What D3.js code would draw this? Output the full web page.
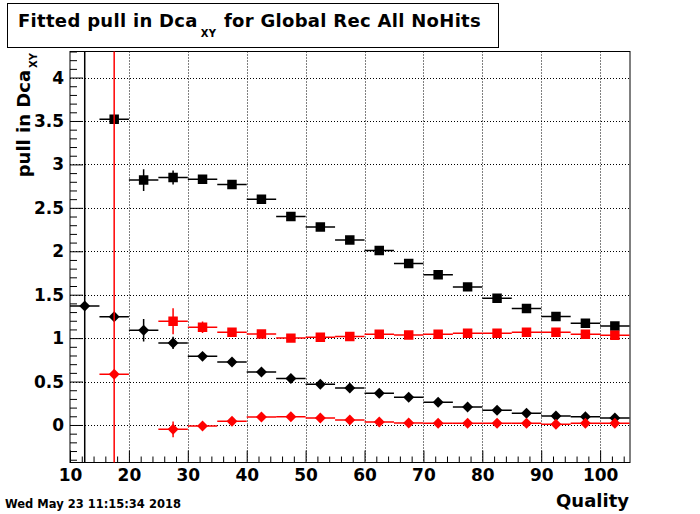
<!DOCTYPE html>
<html>
<head>
<meta charset="utf-8">
<script src="https://cdn.jsdelivr.net/npm/d3@7"></script>
<style>
  body { margin: 0; background: #fff; }
  svg { display: block; font-family: "DejaVu Sans", sans-serif; font-weight: bold; }
</style>
</head>
<body>
<svg id="chart" width="700" height="514"></svg>
<script>
// bin half width (x error of every point)
const binHalf = 2.5

const blackSquareX = [17.5, 22.5, 27.5, 32.5, 37.5, 42.5, 47.5, 52.5, 57.5, 62.5, 67.5, 72.5, 77.5, 82.5, 87.5, 92.5, 97.5, 102.5]
const blackSquareY = [3.52, 2.82, 2.85, 2.83, 2.77, 2.60, 2.40, 2.28, 2.13, 2.01, 1.86, 1.73, 1.59, 1.46, 1.34, 1.25, 1.17, 1.14]
const blackSquareErr = [0.02, 0.125, 0.08, 0.04, 0.03, 0.02, 0.02, 0.02, 0.02, 0.02, 0.02, 0.02, 0.02, 0.02, 0.02, 0.02, 0.02, 0.02]

const redSquareX = [27.5, 32.5, 37.5, 42.5, 47.5, 52.5, 57.5, 62.5, 67.5, 72.5, 77.5, 82.5, 87.5, 92.5, 97.5, 102.5]
const redSquareY = [1.195, 1.125, 1.068, 1.048, 1.0, 1.01, 1.02, 1.045, 1.037, 1.045, 1.056, 1.056, 1.068, 1.068, 1.045, 1.033]
const redSquareErr = [0.15, 0.065, 0.03, 0.02, 0.02, 0.02, 0.02, 0.02, 0.02, 0.02, 0.02, 0.02, 0.02, 0.02, 0.02, 0.02]

const blackDiamondX = [12.5, 17.5, 22.5, 27.5, 32.5, 37.5, 42.5, 47.5, 52.5, 57.5, 62.5, 67.5, 72.5, 77.5, 82.5, 87.5, 92.5, 97.5, 102.5]
const blackDiamondY = [1.37, 1.245, 1.09, 0.945, 0.79, 0.725, 0.61, 0.535, 0.47, 0.425, 0.365, 0.32, 0.262, 0.207, 0.169, 0.135, 0.104, 0.096, 0.081]
const blackDiamondErr = [5, 0.03, 0.13, 0.07, 0.03, 0.02, 0.02, 0.02, 0.02, 0.02, 0.02, 0.02, 0.02, 0.02, 0.02, 0.02, 0.02, 0.02, 0.02]

const redDiamondX = [17.5, 27.5, 32.5, 37.5, 42.5, 47.5, 52.5, 57.5, 62.5, 67.5, 72.5, 77.5, 82.5, 87.5, 92.5, 97.5, 102.5]
const redDiamondY = [0.584, -0.05, -0.012, 0.043, 0.092, 0.095, 0.08, 0.058, 0.035, 0.023, 0.02, 0.02, 0.02, 0.02, 0.008, 0.02, 0.02]
const redDiamondErr = [5, 0.09, 0.03, 0.02, 0.02, 0.02, 0.02, 0.02, 0.02, 0.02, 0.02, 0.02, 0.02, 0.02, 0.02, 0.02, 0.02]

const xMajor = [10, 20, 30, 40, 50, 60, 70, 80, 90, 100]
const yMajor = [0, 0.5, 1, 1.5, 2, 2.5, 3, 3.5, 4]

const frameL = 70, frameR = 630, frameT = 51.5, frameB = 462.5

const x = d3.scaleLinear().domain([10, 105.07]).range([frameL, frameR])
const y = d3.scaleLinear().domain([-0.432, 4.3]).range([frameB, frameT])

const svg = d3.select("#chart")

// title box
svg.append("rect")
    .attr("x", 7.5).attr("y", 3.5).attr("width", 491).attr("height", 44)
    .attr("fill", "#fff").attr("stroke", "#000").attr("stroke-width", 1)
const title = svg.append("text")
    .attr("x", 18).attr("y", 27)
    .attr("font-size", 18)
    .attr("letter-spacing", 0.3)
title.append("tspan").text("Fitted pull in Dca")
title.append("tspan").attr("font-size", 10).attr("dy", 10).attr("dx", 3).text("XY")
title.append("tspan").attr("dy", -10).attr("dx", 1).text("\u00a0for Global Rec All NoHits")

// grid
const grid = svg.append("g")
    .attr("stroke", "#000").attr("stroke-width", 1).attr("stroke-dasharray", "1,2")
grid.selectAll("line.v").data(xMajor.filter(d => d > 10)).join("line")
    .attr("x1", d => Math.round(x(d)) + 0.5).attr("x2", d => Math.round(x(d)) + 0.5)
    .attr("y1", frameT).attr("y2", frameB)
grid.selectAll("line.h").data(yMajor).join("line")
    .attr("y1", d => Math.round(y(d)) + 0.5).attr("y2", d => Math.round(y(d)) + 0.5)
    .attr("x1", frameL).attr("x2", frameR)

// axes (ticks inside the frame)
const xMinor = d3.range(12, 105, 2).filter(d => d % 10 !== 0)
const yMinor = d3.range(-4, 44).map(d => d / 10).filter(d => Math.round(d * 10) % 5 !== 0)

svg.append("g").attr("transform", `translate(0,${frameB})`)
    .call(d3.axisBottom(x).tickValues(xMinor).tickSizeInner(-6).tickSizeOuter(0).tickFormat(""))
svg.append("g").attr("transform", `translate(0,${frameB})`)
    .call(d3.axisBottom(x).tickValues(xMajor).tickSizeInner(-12).tickSizeOuter(0).tickPadding(6))
    .call(g => g.selectAll("text").attr("font-size", 17).attr("font-family", "DejaVu Sans").attr("font-weight", "bold"))
svg.append("g").attr("transform", `translate(${frameL},0)`)
    .call(d3.axisLeft(y).tickValues(yMinor).tickSizeInner(-7).tickSizeOuter(0).tickFormat(""))
svg.append("g").attr("transform", `translate(${frameL},0)`)
    .call(d3.axisLeft(y).tickValues(yMajor).tickSizeInner(-13).tickSizeOuter(0).tickPadding(6).tickFormat(d3.format("")))
    .call(g => g.selectAll("text").attr("font-size", 17).attr("font-family", "DejaVu Sans").attr("font-weight", "bold"))
svg.selectAll(".domain").remove()
svg.selectAll(".tick line").attr("stroke-width", 1)

// frame
svg.append("rect")
    .attr("x", frameL).attr("y", frameT).attr("width", frameR - frameL).attr("height", frameB - frameT)
    .attr("fill", "none").attr("stroke", "#000").attr("stroke-width", 1)

svg.append("clipPath").attr("id", "clip")
    .append("rect").attr("x", frameL).attr("y", frameT).attr("width", frameR - frameL).attr("height", frameB - frameT)

const plot = svg.append("g").attr("clip-path", "url(#clip)")

// ROOT style diamond: a square turned 45 degrees
const rootDiamond = {
    draw(context, size) {
        const r = Math.sqrt(size / 2)
        context.moveTo(0, -r)
        context.lineTo(r, 0)
        context.lineTo(0, r)
        context.lineTo(-r, 0)
        context.closePath()
    }
}

const series = [
    { xs: blackSquareX, ys: blackSquareY, es: blackSquareErr, color: "#000", shape: "square" },
    { xs: redSquareX, ys: redSquareY, es: redSquareErr, color: "#f00", shape: "square" },
    { xs: blackDiamondX, ys: blackDiamondY, es: blackDiamondErr, color: "#000", shape: "diamond" },
    { xs: redDiamondX, ys: redDiamondY, es: redDiamondErr, color: "#f00", shape: "diamond" }
]

series.forEach(s => {
    const pts = s.xs.map((v, i) => ({ x: v, y: s.ys[i], e: s.es[i] }))
    const g = plot.append("g").attr("stroke", s.color).attr("fill", s.color)
    g.selectAll("line.h").data(pts).join("line")
        .attr("stroke-width", 1.5)
        .attr("x1", d => x(d.x - binHalf)).attr("x2", d => x(d.x + binHalf))
        .attr("y1", d => y(d.y)).attr("y2", d => y(d.y))
    g.selectAll("line.v").data(pts).join("line")
        .attr("stroke-width", 1.5)
        .attr("x1", d => x(d.x)).attr("x2", d => x(d.x))
        .attr("y1", d => y(d.y - d.e)).attr("y2", d => y(d.y + d.e))
    const sym = d3.symbol().type(s.shape === "square" ? d3.symbolSquare : rootDiamond)
        .size(s.shape === "square" ? 90 : 60)
    g.selectAll("path").data(pts).join("path")
        .attr("stroke", "none")
        .attr("transform", d => `translate(${x(d.x)},${y(d.y)})`)
        .attr("d", sym)
})

// y axis title
const yt = svg.append("text")
    .attr("transform", "translate(30,53) rotate(-90)")
    .attr("text-anchor", "end")
    .attr("font-size", 18)
yt.append("tspan").text("pull in Dca")
yt.append("tspan").attr("font-size", 10).attr("dy", 7).attr("dx", 2).text("XY")

// x axis title
svg.append("text")
    .attr("x", 629).attr("y", 507)
    .attr("text-anchor", "end")
    .attr("font-size", 18)
    .text("Quality")

// date stamp
svg.append("text")
    .attr("x", 5).attr("y", 508)
    .attr("font-size", 11.5)
    .text("Wed May 23 11:15:34 2018")
</script>
</body>
</html>
